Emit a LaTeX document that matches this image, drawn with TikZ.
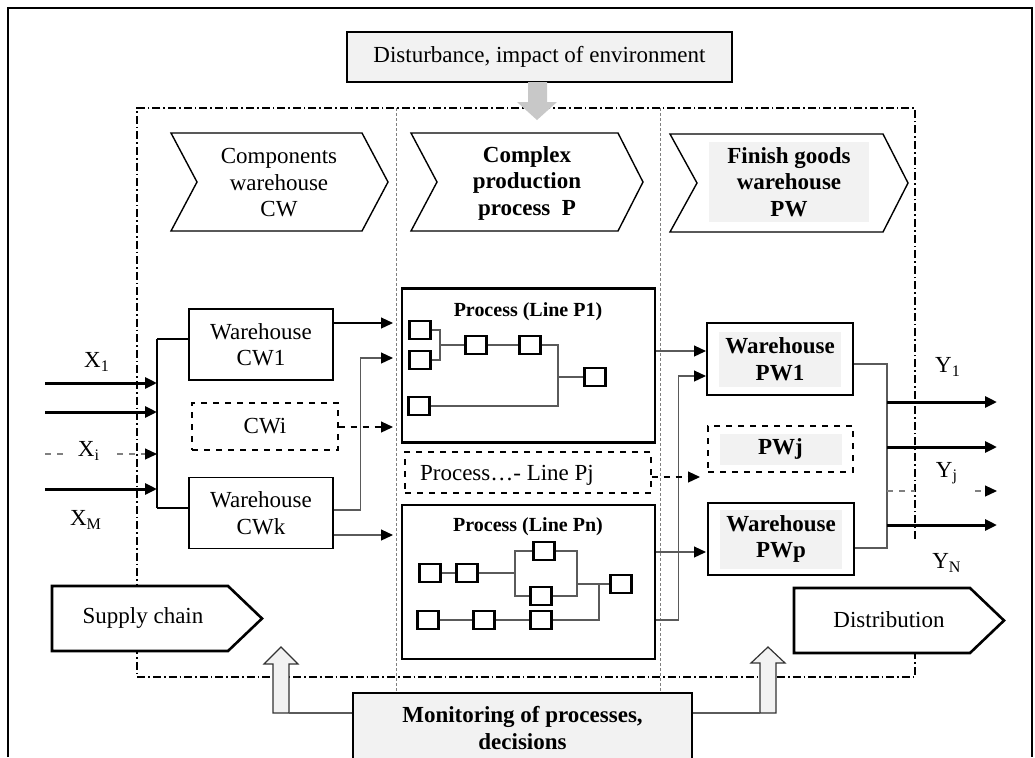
\documentclass[tikz,border=0pt]{standalone}
\usepackage{fontspec}
\setmainfont{Liberation Serif}
\usetikzlibrary{positioning,shapes,arrows.meta}

\definecolor{boxgray}{RGB}{242,242,242}
\definecolor{arrgray}{RGB}{200,200,200}
\definecolor{linegray}{RGB}{90,90,90}

\tikzset{
  >={Triangle[length=6pt,width=5.5pt,color=black]},
  txt/.style={font=\fontsize{11.5}{13.25}\selectfont, align=center, inner sep=0pt},
  bftxt/.style={font=\fontsize{11.5}{13.25}\selectfont\bfseries, align=center, inner sep=0pt},
  titletxt/.style={font=\fontsize{10}{12}\selectfont\bfseries, inner sep=0pt},
  cwbox/.style={draw, line width=0.6pt, minimum width=72pt, minimum height=35.5pt, txt},
  pbox/.style={draw, line width=1.3pt, minimum width=126.5pt, minimum height=77pt},
  pwbox/.style={draw, line width=1.3pt, minimum width=73pt, minimum height=36pt},
  dashbox/.style={draw, dashed, line width=0.6pt},
  sq/.style={draw, line width=1.2pt, minimum width=10.5pt, minimum height=9pt, inner sep=0pt},
  shadebox/.style={bftxt, fill=boxgray, minimum width=61pt},
  flow/.style={->, line width=0.6pt},
  grayflow/.style={->, line width=0.6pt, draw=linegray},
  bigflow/.style={->, line width=1.5pt},
  link/.style={line width=0.6pt, draw=linegray},
  dashdot/.style={line width=0.6pt, dash pattern=on 4pt off 1.5pt on 0.8pt off 1.5pt},
  divider/.style={line width=0.5pt, gray, dash pattern=on 1.5pt off 1pt},
  chev/.style={draw, fill=white, line width=0.7pt},
  tag/.style={draw, fill=white, line width=1.3pt},
  uparrow/.style={draw=black!80, fill=boxgray, line width=0.6pt}
}

\begin{document}
\begin{tikzpicture}[x=0.5pt, y=-0.5pt]
  \useasboundingbox (0,0) rectangle (1035,757);
  % frame
  \draw[line width=0.9pt] (8,757) -- (8,8) -- (1032,8) -- (1032,757);

  % system border
  \draw[dashdot] (915,539) -- (915,108) -- (137,108) -- (137,677) -- (915,677) -- (915,653);
  \draw[divider] (396,108) -- (396,693);
  \draw[divider] (660,108) -- (660,693);

  % environment
  \node[txt, draw, fill=boxgray, line width=0.6pt, minimum width=192.5pt, minimum height=25pt] (env) at (539.5,57) {Disturbance, impact of environment};
  \fill[arrgray] (528,82) -- (547,82) -- (547,102) -- (557,102) -- (537,120) -- (517,102) -- (528,102) -- cycle;

  % stage headers
  \draw[chev] (171,133) -- (362,133) -- (388,182) -- (362,231) -- (171,231) -- (197,182) -- cycle;
  \node[txt] (cw) at (279,183) {Components\\warehouse\\CW};
  \draw[chev] (411,133) -- (618,133) -- (643,182) -- (618,231) -- (411,231) -- (437,182) -- cycle;
  \node[bftxt] (pp) at (527,183) {Complex\\production\\process~~P};
  \draw[chev] (670,134) -- (883,134) -- (908,183) -- (883,232) -- (670,232) -- (697,183) -- cycle;
  \node[bftxt, fill=boxgray, minimum width=80pt, minimum height=40pt] (pw) at (789,182) {Finish goods\\warehouse\\PW};

  % inputs
  \coordinate (bustop) at (157,339);
  \coordinate (busbot) at (157,508);
  \draw[link, draw=black] (bustop) -- (busbot);
  \foreach \y/\n in {383/1, 412/2, 489/m} {
    \coordinate (in\n) at (45,\y);
    \draw[bigflow] (in\n) -- (in\n -| bustop);
  }
  \coordinate (ini) at (45,454);
  \draw[flow, dashed, draw=gray] (ini) -- (ini -| bustop);
  \node[txt] (xone) at (97,362) {X\textsubscript{1}};
  \node[txt, fill=white, inner xsep=7pt, inner ysep=1pt] (xi) at (89,451) {X\textsubscript{i}};
  \node[txt] (xm) at (86,520) {X\textsubscript{M}};

  % components warehouses
  \node[cwbox] (cw1) at (261,344.5) {Warehouse\\CW1};
  \node[cwbox, dashed, minimum width=73pt, minimum height=23.5pt] (cwi) at (265,426.5) {CWi};
  \node[cwbox] (cwk) at (261,513) {Warehouse\\CWk};
  \draw[link, draw=black] (bustop) -- (bustop -| cw1.west);
  \draw[link, draw=black] (busbot) -- (busbot -| cwk.west);

  \coordinate (pa) at (393,323);
  \coordinate (pb) at (393,358);
  \coordinate (pc) at (393,427);
  \coordinate (pd) at (393,535);
  \draw[flow] (cw1.east |- pa) -- (pa);
  \draw[grayflow] ([yshift=1.5pt]cwk.east) -- ++(13.5pt,0) |- (pb);
  \draw[flow, dashed] (cwi.east |- pc) -- (pc);
  \draw[grayflow] (cwk.east |- pd) -- (pd);

  % line P1
  \node[pbox] (p1) at (528.5,365.5) {};
  \node[titletxt] (p1t) at (528,312) {Process (Line P1)};
  \foreach \n/\x/\y in {a1/420/330, a2/420/360, a3/476/345, a4/530/345, a5/595/377, a6/419/406}
    \node[sq] (\n) at (\x,\y) {};
  \coordinate (j1) at (440,345);
  \coordinate (j2) at (558,377);
  \draw[link] (a1.east) -| (j1) -- (a3.west);
  \draw[link] (a2.east) -| (j1);
  \draw[link] (a3) -- (a4);
  \draw[link] (a4.east) -| (j2) -- (a5.west);
  \draw[link] (a6.east) -| (j2);

  % line Pj
  \node[dashbox, minimum width=123pt, minimum height=20.5pt] (pj) at (528,472.5) {};
  \node[txt] (pjt) at (507,475) {Process…- Line Pj};

  % line Pn
  \node[pbox] (pn) at (528.5,582) {};
  \node[titletxt] (pnt) at (528,527) {Process (Line Pn)};
  \foreach \n/\x/\y in {b1/430/573, b2/467/573, b3/544/551, b4/541/596, b5/621/584, b6/428/620, b7/484/620, b8/541/620}
    \node[sq] (\n) at (\x,\y) {};
  \coordinate (k1) at (515,573);
  \coordinate (k2) at (577,584);
  \coordinate (k3) at (599,584);
  \draw[link] (b1) -- (b2) -- (k1);
  \draw[link] (b3.west) -| (k1) |- (b4.west);
  \draw[link] (b3.east) -| (k2) |- (b4.east);
  \draw[link] (k2) -- (b5.west);
  \draw[link] (b6) -- (b7) -- (b8) -| (k3);

  % to finish goods
  \coordinate (qa) at (706,351);
  \coordinate (qb) at (706,376);
  \coordinate (qc) at (706,552);
  \coordinate (qd) at (700,477);
  \draw[grayflow] (p1.east |- qa) -- (qa);
  \draw[grayflow] ([yshift=-19pt]pn.east) -- ++(11pt,0) |- (qb);
  \draw[grayflow] (pn.east |- qc) -- (qc);
  \draw[flow, dashed] (pj.east |- qd) -- (qd);

  % finish goods warehouses
  \node[pwbox] (pw1) at (780,359) {};
  \node[shadebox, minimum height=27.5pt] (pw1t) at (pw1) {Warehouse\\PW1};
  \node[dashbox, minimum width=72.5pt, minimum height=23pt] (pwj) at (780.5,449) {};
  \node[shadebox, minimum height=15.5pt] (pwjt) at (pwj) {PWj};
  \node[pwbox] (pwp) at (781,539) {};
  \node[shadebox, minimum height=29.5pt] (pwpt) at (pwp) {Warehouse\\PWp};

  % outputs
  \coordinate (ya) at (887,364);
  \coordinate (yb) at (887,548);
  \draw[link] ([yshift=-2.5pt]pw1.east) -- (ya) -- (yb) -- ([yshift=-4.5pt]pwp.east);
  \foreach \y/\n in {402/1, 447/2, 525/n} {
    \coordinate (out\n) at (997,\y);
    \draw[bigflow] (out\n -| ya) -- (out\n);
  }
  \coordinate (outj) at (997,491);
  \coordinate (gapa) at (915,491);
  \coordinate (gapb) at (975,491);
  \draw[dashed, gray, line width=0.6pt] (outj -| ya) -- (gapa);
  \draw[flow, dashed, draw=gray] (gapb) -- (outj);
  \node[txt] (yone) at (948,367) {Y\textsubscript{1}};
  \node[txt] (yj) at (947,473) {Y\textsubscript{j}};
  \node[txt] (yn) at (947,563) {Y\textsubscript{N}};

  % supply chain / distribution
  \draw[tag] (52,586) -- (228,586) -- (262,618.5) -- (228,651) -- (52,651) -- cycle;
  \node[txt] (supply) at (143,618) {Supply chain};
  \draw[tag] (794,588) -- (970,588) -- (1004,620.5) -- (970,653) -- (794,653) -- cycle;
  \node[txt] (distr) at (889,620) {Distribution};

  % monitoring
  \node[bftxt, draw, fill=boxgray, line width=0.6pt, minimum width=169.5pt, minimum height=35pt] (mon) at (522.5,728) {Monitoring of processes,\\decisions};
  \draw[uparrow] (273,713) -- (273,664) -- (264,664) -- (281,647) -- (298,664) -- (289,664) -- (289,713) -- cycle;
  \draw[uparrow] (760,713) -- (760,663) -- (751,663) -- (768,647) -- (785,663) -- (776,663) -- (776,713) -- cycle;
  \coordinate (upl) at (289,713);
  \coordinate (upr) at (760,713);
  \draw[link] (upl) -- (mon.west |- upl);
  \draw[link] (mon.east |- upr) -- (upr);
\end{tikzpicture}
\end{document}
